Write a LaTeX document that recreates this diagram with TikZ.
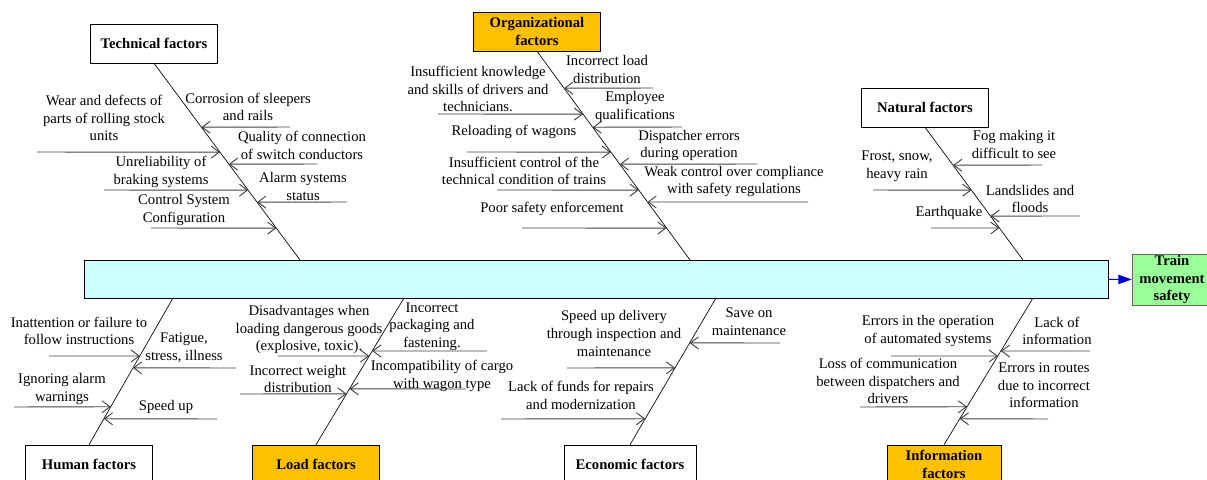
\documentclass[tikz,border=0pt]{standalone}
\usepackage{fontspec}
\setmainfont{Liberation Serif}
\usetikzlibrary{arrows.meta,calc}

\definecolor{orgyellow}{RGB}{255,192,0}
\definecolor{spinecyan}{RGB}{204,255,255}
\definecolor{safegreen}{RGB}{153,255,153}
\newcommand{\causefont}{\fontsize{11}{13.2}\selectfont}

\begin{document}
\begin{tikzpicture}[
    x=0.75pt, y=-0.75pt,
    factor/.style={draw, rectangle, fill=white, align=center, font=\causefont\bfseries, minimum width=95pt, minimum height=29.25pt, inner sep=1pt},
    hot/.style={fill=orgyellow},
    cause/.style={align=center, inner sep=0pt, font=\causefont},
    bone/.style={line width=0.5pt},
    arrow/.style={-{Straight Barb[length=6pt,width=9pt]}, line width=0.7pt, draw=black!75}
]
\useasboundingbox (0,0) rectangle (1207,479);

% spine and result
\node[draw, fill=spinecyan, minimum width=768pt, minimum height=28.5pt, inner sep=0pt] (spine) at (596,279) {};
\node[draw=black!60, fill=safegreen, align=center, font=\causefont\bfseries, minimum width=60pt, minimum height=38pt, inner sep=0pt] (safety) at (1172,279.5) {Train\\movement\\safety};
\draw[-{Triangle[length=10pt,width=7pt]}, blue!80!black, line width=0.7pt] (spine) -- (safety);

% factor boxes
\node[factor] (tech) at (154,43.5) {Technical factors};
\node[factor, hot] (org) at (537,31.5) {Organizational\\factors};
\node[factor] (nat) at (925,107.5) {Natural factors};
\node[factor] (hum) at (89,464.5) {Human factors};
\node[factor, hot] (load) at (316,464.5) {Load factors};
\node[factor, minimum width=99pt] (econ) at (630,464.5) {Economic factors};
\node[factor, hot, minimum width=85.5pt] (info) at (944,464.5) {Information\\factors};

% bones
\coordinate (techend) at (300,260);
\coordinate (orgend) at (690,260);
\coordinate (natend) at (1023,260);
\coordinate (humend) at (173,298);
\coordinate (loadend) at (404,298);
\coordinate (econend) at (716,298);
\coordinate (infoend) at (1033,298);
\draw[bone] (tech.south) -- (techend);
\draw[bone] (org.south) -- (orgend);
\draw[bone] (nat.south) -- (natend);
\draw[bone] (hum.north) -- (humend);
\draw[bone] (load.north) -- (loadend);
\draw[bone] (econ.north) -- (econend);
\draw[bone] (info.north) -- (infoend);

% technical causes
\node[cause] (t1) at (248,107) {Corrosion of sleepers\\and rails};
\node[cause] (t2) at (104,118) {Wear and defects of\\parts of rolling stock\\units};
\node[cause] (t3) at (302,145.5) {Quality of connection\\of switch conductors};
\node[cause] (t4) at (161,172) {Unreliability of\\braking systems};
\node[cause] (t5) at (303,186.5) {Alarm systems\\status};
\node[cause] (t6) at (184,210) {Control System\\Configuration};
\coordinate (t1a) at (290,127);
\coordinate (t2a) at (37,152);
\coordinate (t3a) at (317,164);
\coordinate (t4a) at (104,190);
\coordinate (t5a) at (347,202);
\coordinate (t6a) at (151,228);
\draw[arrow] (t1a) -- ($(tech.south)!0.325!(techend)$);
\draw[arrow] (t2a) -- ($(tech.south)!0.452!(techend)$);
\draw[arrow] (t3a) -- ($(tech.south)!0.513!(techend)$);
\draw[arrow] (t4a) -- ($(tech.south)!0.645!(techend)$);
\draw[arrow] (t5a) -- ($(tech.south)!0.706!(techend)$);
\draw[arrow] (t6a) -- ($(tech.south)!0.838!(techend)$);

% organizational causes
\node[cause] (o1) at (607,69.5) {Incorrect load\\distribution};
\node[cause] (o2) at (478,89) {Insufficient knowledge\\and skills of drivers and\\technicians.};
\node[cause] (o3) at (635,107) {Employee\\qualifications};
\node[cause] (o4) at (514,132) {Reloading of wagons};
\node[cause] (o5) at (689,145.5) {Dispatcher errors\\during operation};
\node[cause] (o6) at (524,171) {Insufficient control of the\\technical condition of trains};
\node[cause] (o7) at (734,181.5) {Weak control over compliance\\with safety regulations};
\node[cause] (o8) at (552,209) {Poor safety enforcement};
\coordinate (o1a) at (653,88);
\coordinate (o2a) at (438,114);
\coordinate (o3a) at (682,127);
\coordinate (o4a) at (467,152);
\coordinate (o5a) at (757,164);
\coordinate (o6a) at (497,190);
\coordinate (o7a) at (808,202);
\coordinate (o8a) at (522,228);
\draw[arrow] (o1a) -- ($(org.south)!0.177!(orgend)$);
\draw[arrow] (o2a) -- ($(org.south)!0.301!(orgend)$);
\draw[arrow] (o3a) -- ($(org.south)!0.364!(orgend)$);
\draw[arrow] (o4a) -- ($(org.south)!0.483!(orgend)$);
\draw[arrow] (o5a) -- ($(org.south)!0.541!(orgend)$);
\draw[arrow] (o6a) -- ($(org.south)!0.665!(orgend)$);
\draw[arrow] (o7a) -- ($(org.south)!0.722!(orgend)$);
\draw[arrow] (o8a) -- ($(org.south)!0.847!(orgend)$);

% natural causes
\node[cause] (n1) at (1014,144.5) {Fog making it\\difficult to see};
\node[cause] (n2) at (897,166.5) {Frost, snow,\\heavy rain};
\node[cause] (n3) at (1030,199) {Landslides and\\floods};
\node[cause] (n4) at (949,213) {Earthquake};
\coordinate (n1a) at (1042,165);
\coordinate (n2a) at (873,190);
\coordinate (n3a) at (1080,216);
\coordinate (n4a) at (931,228);
\draw[arrow] (n1a) -- ($(nat.south)!0.286!(natend)$);
\draw[arrow] (n2a) -- ($(nat.south)!0.474!(natend)$);
\draw[arrow] (n3a) -- ($(nat.south)!0.669!(natend)$);
\draw[arrow] (n4a) -- ($(nat.south)!0.759!(natend)$);

% human causes
\node[cause] (h1) at (79,331) {Inattention or failure to\\follow instructions};
\node[cause] (h2) at (184,348) {Fatigue,\\stress, illness};
\node[cause] (h3) at (62,389) {Ignoring alarm\\warnings};
\node[cause] (h4) at (166,407) {Speed up};
\coordinate (h1a) at (49,356);
\coordinate (h2a) at (236,368);
\coordinate (h3a) at (14,407);
\coordinate (h4a) at (217,419);
\draw[arrow] (h1a) -- ($(humend)!0.395!(hum.north)$);
\draw[arrow] (h2a) -- ($(humend)!0.476!(hum.north)$);
\draw[arrow] (h3a) -- ($(humend)!0.741!(hum.north)$);
\draw[arrow] (h4a) -- ($(humend)!0.823!(hum.north)$);

% load causes
\node[cause] (l1) at (309,329.5) {Disadvantages when\\loading dangerous goods\\(explosive, toxic).};
\node[cause] (l2) at (432,326.5) {Incorrect\\packaging and\\fastening.};
\node[cause] (l3) at (298,379) {Incorrect weight\\distribution};
\node[cause] (l4) at (442,376) {Incompatibility of cargo\\with wagon type};
\coordinate (l1a) at (278,356);
\coordinate (l2a) at (487,351);
\coordinate (l3a) at (240,394);
\coordinate (l4a) at (466,389);
\draw[arrow] (l1a) -- ($(loadend)!0.395!(load.north)$);
\draw[arrow] (l2a) -- ($(loadend)!0.361!(load.north)$);
\draw[arrow] (l3a) -- ($(loadend)!0.653!(load.north)$);
\draw[arrow] (l4a) -- ($(loadend)!0.619!(load.north)$);

% economic causes
\node[cause] (e1) at (614,333.5) {Speed up delivery\\through inspection and\\maintenance};
\node[cause] (e2) at (749,321.5) {Save on\\maintenance};
\node[cause] (e3) at (581,395.5) {Lack of funds for repairs\\and modernization};
\coordinate (e1a) at (567,368);
\coordinate (e2a) at (780,343);
\coordinate (e3a) at (501,419);
\draw[arrow] (e1a) -- ($(econend)!0.476!(econ.north)$);
\draw[arrow] (e2a) -- ($(econend)!0.306!(econ.north)$);
\draw[arrow] (e3a) -- ($(econend)!0.823!(econ.north)$);

% information causes
\node[cause] (i1) at (928,331) {Errors in the operation\\of automated systems};
\node[cause] (i2) at (1057,331) {Lack of\\information};
\node[cause] (i3) at (888,381) {Loss of communication\\between dispatchers and\\drivers};
\node[cause] (i4) at (1044,385.5) {Errors in routes\\due to incorrect\\information};
\coordinate (i1a) at (891,356);
\coordinate (i2a) at (1090,351);
\coordinate (i3a) at (860,407);
\coordinate (i4a) at (1048,419);
\draw[arrow] (i1a) -- ($(infoend)!0.395!(info.north)$);
\draw[arrow] (i2a) -- ($(infoend)!0.361!(info.north)$);
\draw[arrow] (i3a) -- ($(infoend)!0.741!(info.north)$);
\draw[arrow] (i4a) -- ($(infoend)!0.823!(info.north)$);
\end{tikzpicture}
\end{document}
